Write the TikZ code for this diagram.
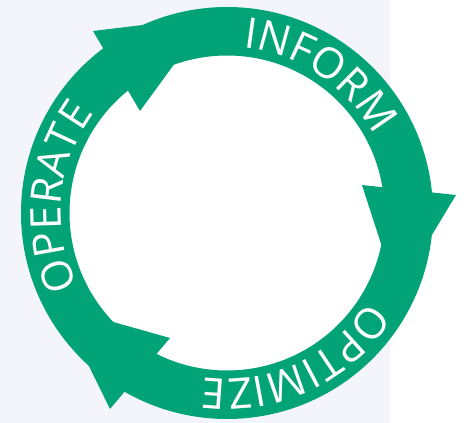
\documentclass[tikz,border=0pt]{standalone}
\usepackage{fontspec}
\setmainfont{Open Sans}
\usetikzlibrary{decorations.text}

\definecolor{cyclegreen}{HTML}{03A378}
\definecolor{panelgray}{HTML}{F4F5FA}

\tikzstyle{ring} = [fill=cyclegreen, even odd rule]
\tikzstyle{head} = [fill=cyclegreen]
\tikzstyle{phase label} = [decorate, decoration={text along path, text align=center, text color=white}]

\begin{document}
\begin{tikzpicture}[x=1pt, y=1pt]
    % canvas: grey panel, white strip on the right
    \useasboundingbox (-227,-210) rectangle (240,213);
    \fill[panelgray] (-227,-210) rectangle (163,213);
    \fill[white] (0,0) circle (157.5);
    % the ring itself
    \fill[ring] (0,0) circle (206) (0,0) circle (157.5);
    % arrow heads, all pointing clockwise
    \foreach \outer/\inner/\tip in {{(229,18)/(135,28)/(170,-80)},
        {(-134,182)/(-87,102)/(-18.4,196)},
        {(-117,-196)/(-57,-125)/(-167,-94)}}
    \fill[head] \outer -- \inner -- \tip -- cycle;
    % phase names along the ring
    \path[phase label, decoration={text={|\fontsize{42.5}{42}\selectfont|INFORM}}]
        (100:166) arc[start angle=100, end angle=12, radius=166];
    \path[phase label, decoration={text={|\fontsize{42.5}{42}\selectfont|OPTIMIZE}}]
        (-15:166) arc[start angle=-15, end angle=-115, radius=166];
    \path[phase label, decoration={text={|\fontsize{42.5}{42}\selectfont|OPERATE}}]
        (215:166) arc[start angle=215, end angle=134, radius=166];
\end{tikzpicture}
\end{document}
